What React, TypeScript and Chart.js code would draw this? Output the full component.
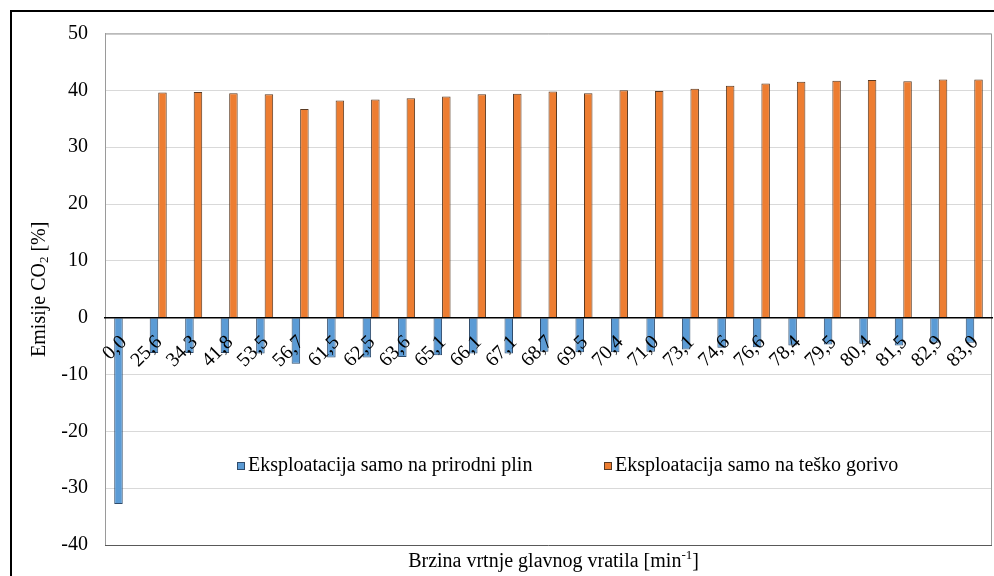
import React, { useEffect, useRef } from "react";
import { Chart, registerables } from "chart.js";

Chart.register(...registerables);

const speeds = ["0,0", "25,6", "34,3", "41,8", "53,5", "56,7", "61,5", "62,5", "63,6", "65,1", "66,1", "67,1", "68,7", "69,5", "70,4", "71,0", "73,1", "74,6", "76,6", "78,4", "79,5", "80,4", "81,5", "82,9", "83,0"];
const naturalGas = [-32.8, -6.2, -6.2, -6.2, -6.3, -8.1, -7.0, -7.0, -6.9, -6.6, -6.3, -6.3, -6.0, -6.1, -6.1, -6.0, -5.6, -5.3, -5.2, -4.9, -4.7, -4.6, -4.9, -4.4, -4.4];
const heavyFuel = [null, 39.6, 39.7, 39.5, 39.3, 36.7, 38.2, 38.4, 38.6, 38.9, 39.3, 39.4, 39.8, 39.5, 40.0, 39.9, 40.3, 40.8, 41.2, 41.5, 41.7, 41.8, 41.6, 41.9, 41.9];
const seriesNames = ["Eksploatacija samo na prirodni plin", "Eksploatacija samo na teško gorivo"];
const yTicks = [-40, -30, -20, -10, 0, 10, 20, 30, 40, 50];

const FONT = '"Liberation Serif", "Times New Roman", serif';
const BLUE = "#5B9BD5";
const BLUE_EDGE = "#2f4b6b";
const ORANGE = "#ED7D31";
const ORANGE_EDGE = "#5a3a22";

const decor = {
  id: "decor",
  beforeDatasetsDraw(chart: any) {
    const { ctx, chartArea: a } = chart;
    ctx.save();
    ctx.strokeStyle = "#9a9a9a";
    ctx.lineWidth = 1;
    ctx.beginPath();
    ctx.moveTo(a.left + 0.5, a.bottom);
    ctx.lineTo(a.left + 0.5, a.top + 0.5);
    ctx.lineTo(a.right - 0.5, a.top + 0.5);
    ctx.lineTo(a.right - 0.5, a.bottom);
    ctx.stroke();
    ctx.strokeStyle = "#595959";
    ctx.beginPath();
    ctx.moveTo(a.left, a.bottom + 0.5);
    ctx.lineTo(a.right, a.bottom + 0.5);
    ctx.stroke();
    ctx.restore();
  },
  afterDraw(chart: any) {
    const { ctx, chartArea: a, scales } = chart;
    ctx.save();
    ctx.fillStyle = "#000";
    ctx.textBaseline = "middle";

    // y-axis title with subscript
    const big = `20px ${FONT}`;
    const small = `13px ${FONT}`;
    const p1 = "Emisije CO";
    const p2 = "2";
    const p3 = " [%]";
    ctx.font = big;
    const w1 = ctx.measureText(p1).width;
    const w3 = ctx.measureText(p3).width;
    ctx.font = small;
    const w2 = ctx.measureText(p2).width;
    const total = w1 + w2 + w3;
    ctx.translate(40, (a.top + a.bottom) / 2);
    ctx.rotate(-Math.PI / 2);
    let x = -total / 2;
    ctx.textAlign = "left";
    ctx.font = big;
    ctx.fillText(p1, x, 0);
    x += w1;
    ctx.font = small;
    ctx.fillText(p2, x, 5);
    x += w2;
    ctx.font = big;
    ctx.fillText(p3, x, 0);
    ctx.setTransform(1, 0, 0, 1, 0, 0);

    // x-axis title with superscript
    const q1 = "Brzina vrtnje glavnog vratila [min";
    const q2 = "-1";
    const q3 = "]";
    ctx.font = big;
    const v1 = ctx.measureText(q1).width;
    const v3 = ctx.measureText(q3).width;
    ctx.font = small;
    const v2 = ctx.measureText(q2).width;
    const tot2 = v1 + v2 + v3;
    let xx = (a.left + a.right) / 2 + 5 - tot2 / 2;
    const ty = a.bottom + 17;
    ctx.font = big;
    ctx.fillText(q1, xx, ty);
    xx += v1;
    ctx.font = small;
    ctx.fillText(q2, xx, ty - 6);
    xx += v2;
    ctx.font = big;
    ctx.fillText(q3, xx, ty);

    // legend inside the plot
    const ly = scales.y.getPixelForValue(-26.1);
    const starts = [a.left + 132, a.left + 499];
    const fills = [BLUE, ORANGE];
    const edges = [BLUE_EDGE, ORANGE_EDGE];
    seriesNames.forEach((name, i) => {
      const sx = starts[i];
      ctx.fillStyle = fills[i];
      ctx.fillRect(sx, ly - 4, 8, 8);
      ctx.strokeStyle = edges[i];
      ctx.lineWidth = 1;
      ctx.strokeRect(sx + 0.5, ly - 3.5, 7, 7);
      ctx.fillStyle = "#000";
      ctx.font = big;
      ctx.textAlign = "left";
      ctx.fillText(name, sx + 11, ly);
    });
    ctx.restore();
  },
};

export default function App() {
  const ref = useRef<HTMLCanvasElement | null>(null);

  useEffect(() => {
    if (!ref.current) return;
    const chart = new Chart(ref.current, {
      type: "bar",
      data: {
        labels: speeds,
        datasets: [
          {
            label: seriesNames[0],
            data: naturalGas,
            backgroundColor: BLUE,
            borderColor: BLUE_EDGE,
            borderWidth: 1,
            categoryPercentage: 0.48,
            barPercentage: 1.0,
          },
          {
            label: seriesNames[1],
            data: heavyFuel as any,
            backgroundColor: ORANGE,
            borderColor: ORANGE_EDGE,
            borderWidth: 1,
            categoryPercentage: 0.48,
            barPercentage: 1.0,
          },
        ],
      },
      options: {
        responsive: false,
        animation: false,
        layout: { padding: { left: 10, top: 33.5, right: 2, bottom: 31 } },
        plugins: {
          legend: { display: false },
          tooltip: { enabled: false },
          title: { display: false },
        },
        scales: {
          x: {
            position: { y: 0 } as any,
            afterFit(scale: any) {
              scale.paddingLeft = 0;
              scale.paddingRight = 0;
            },
            grid: { display: false, drawTicks: false },
            border: { display: true, color: "#000", width: 1.5, z: 1 } as any,
            ticks: {
              z: 1,
              autoSkip: false,
              minRotation: 45,
              maxRotation: 45,
              padding: 13,
              labelOffset: 1,
              color: "#000",
              font: { family: FONT, size: 20 },
            },
          },
          y: {
            min: -40,
            max: 50,
            afterFit(scale: any) {
              scale.width = 95;
            },
            afterBuildTicks(scale: any) {
              scale.ticks = yTicks.map((v) => ({ value: v }));
            },
            grid: { color: "#d9d9d9", lineWidth: 1, drawTicks: false },
            border: { display: true, color: "#9a9a9a", width: 1 },
            ticks: {
              padding: 17,
              color: "#000",
              font: { family: FONT, size: 20 },
            },
          },
        },
      },
      plugins: [decor],
    });
    return () => chart.destroy();
  }, []);

  return (
    <div
      style={{
        position: "fixed",
        left: 0,
        top: 0,
        width: 994,
        height: 576,
        overflow: "hidden",
        background: "#fff",
      }}
    >
      <canvas
        ref={ref}
        width={994}
        height={576}
        style={{ position: "absolute", left: 0, top: 0, width: 994, height: 576 }}
      />
      <div
        style={{
          position: "absolute",
          left: 10,
          top: 10,
          width: 1100,
          height: 700,
          border: "2px solid #000",
          boxSizing: "border-box",
          pointerEvents: "none",
        }}
      />
    </div>
  );
}
